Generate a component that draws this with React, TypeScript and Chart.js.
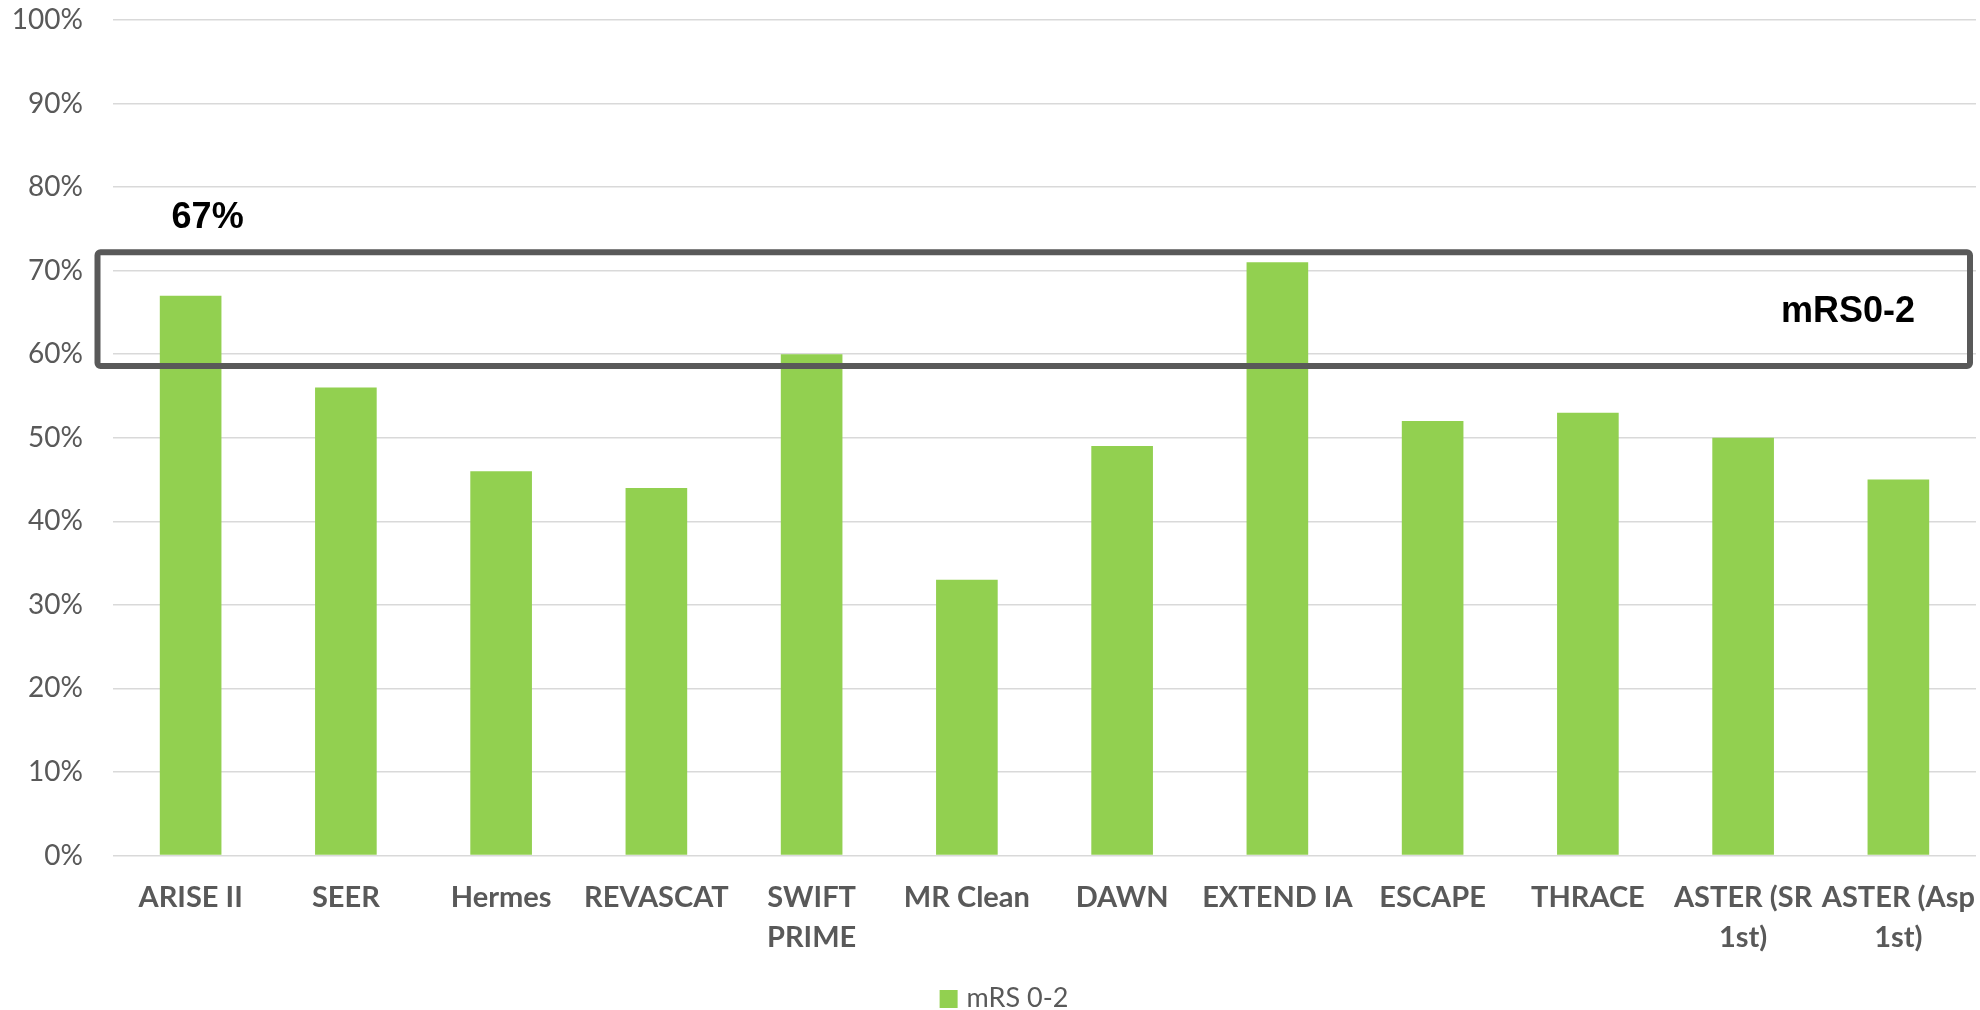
import React, { useEffect, useRef } from "react";
import { Chart, registerables } from "chart.js";

Chart.register(...registerables);

// Trials and the share of patients reaching mRS 0-2
const trials: (string | string[])[] = [
  "ARISE II",
  "SEER",
  "Hermes",
  "REVASCAT",
  ["SWIFT", "PRIME"],
  "MR Clean",
  "DAWN",
  "EXTEND IA",
  "ESCAPE",
  "THRACE",
  ["ASTER (SR", "1st)"],
  ["ASTER (Asp", "1st)"],
];
const mrs02: number[] = [67, 56, 46, 44, 60, 33, 49, 71, 52, 53, 50, 45];

const seriesName = "mRS 0-2";
const highlightLabel = "67%";
const highlightIndex = 0;
const bandLabel = "mRS0-2";
// Highlighted band on the value axis (percent)
const bandTop = 72.2;
const bandBottom = 58.6;

const yTicks: number[] = [0, 10, 20, 30, 40, 50, 60, 70, 80, 90, 100];

const W = 1980;
const H = 1010;
const barColor = "#92D050";
const textGrey = "#595959";
const labelFont = "Lato, 'Open Sans', sans-serif";

const overlayPlugin = {
  id: "mrsOverlay",
  afterDatasetsDraw(chart: any) {
    const { ctx, chartArea, scales } = chart;
    const y = scales.y;
    const top = y.getPixelForValue(bandTop);
    const bottom = y.getPixelForValue(bandBottom);
    const left = chartArea.left - 15.5;
    const right = chartArea.right - 6;

    ctx.save();
    // outlined band around the 60-70% region
    ctx.lineWidth = 6;
    ctx.strokeStyle = textGrey;
    ctx.beginPath();
    ctx.roundRect(left, top, right - left, bottom - top, 3);
    ctx.stroke();

    const capHalf = (0.716 * 36) / 2;
    ctx.font = "bold 36px 'Liberation Sans', Arial, sans-serif";
    ctx.fillStyle = "#000000";
    ctx.textBaseline = "alphabetic";
    ctx.textAlign = "right";
    ctx.fillText(bandLabel, right - 55, (top + bottom) / 2 + capHalf);

    const bar = chart.getDatasetMeta(0).data[highlightIndex];
    ctx.textAlign = "center";
    ctx.fillText(highlightLabel, bar.x + 17, bar.y - 68);

    // series key below the category labels
    const ds = chart.data.datasets[0];
    ctx.font = `27px ${labelFont}`;
    const textW = ctx.measureText(ds.label).width;
    const box = 18;
    const gap = 9;
    const total = box + gap + textW;
    const startX = chart.width / 2 + 14 - total / 2;
    const baseY = chartArea.bottom + 151.5;
    ctx.fillStyle = ds.backgroundColor;
    ctx.fillRect(startX, baseY - 17, box, box);
    ctx.fillStyle = textGrey;
    ctx.textAlign = "left";
    ctx.fillText(ds.label, startX + box + gap, baseY);
    ctx.restore();
  },
};

export default function App() {
  const canvasRef = useRef<HTMLCanvasElement | null>(null);

  useEffect(() => {
    document.body.style.margin = "0";
    const canvas = canvasRef.current;
    if (!canvas) return;
    const chart = new Chart(canvas, {
      type: "bar",
      data: {
        labels: trials,
        datasets: [
          {
            label: seriesName,
            data: mrs02,
            backgroundColor: barColor,
            borderWidth: 0,
            barPercentage: 0.397,
            categoryPercentage: 1,
          },
        ],
      },
      options: {
        responsive: false,
        animation: false,
        devicePixelRatio: 1,
        layout: { padding: { top: 20, left: 0, right: 4, bottom: 0 } },
        plugins: {
          tooltip: { enabled: false },
          legend: { display: false },
        },
        scales: {
          x: {
            grid: { display: false, drawTicks: false },
            border: { display: false },
            ticks: {
              autoSkip: false,
              maxRotation: 0,
              minRotation: 0,
              padding: 23,
              color: textGrey,
              font: { family: labelFont, size: 29, weight: "bold", lineHeight: 1.35 },
            },
            afterFit(scale: any) {
              scale.height = 154.5;
              scale.paddingLeft = 0;
              scale.paddingRight = 0;
            },
          },
          y: {
            min: 0,
            max: 100,
            afterBuildTicks(scale: any) {
              scale.ticks = yTicks.map((v) => ({ value: v }));
            },
            grid: { color: "#D9D9D9", lineWidth: 1.5, drawTicks: false },
            border: { display: false },
            ticks: {
              padding: 30,
              color: textGrey,
              font: { family: labelFont, size: 28 },
              callback: (v: any) => `${v}%`,
            },
            afterFit(scale: any) {
              scale.width = 113;
              scale.paddingTop = 0;
              scale.paddingBottom = 0;
            },
          },
        },
      },
      plugins: [overlayPlugin],
    });
    return () => chart.destroy();
  }, []);

  return (
    <div style={{ width: W, height: H, overflow: "hidden", background: "#ffffff" }}>
      <canvas ref={canvasRef} width={W} height={H} style={{ display: "block" }} />
    </div>
  );
}
